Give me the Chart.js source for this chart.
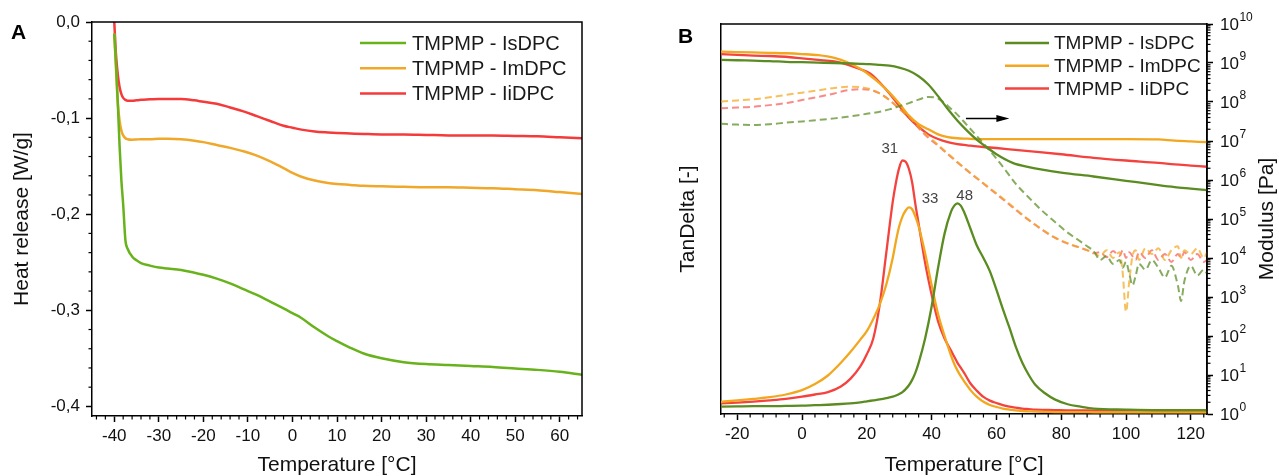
<!DOCTYPE html>
<html>
<head>
<meta charset="utf-8">
<script src="https://cdn.jsdelivr.net/npm/chart.js@4.4.1/dist/chart.umd.min.js"></script>
<style>
  html, body { margin: 0; padding: 0; background: #fff; }
  #wrap { position: relative; width: 1279px; height: 476px; overflow: hidden; }
  canvas { position: absolute; top: 0; }
  #dscChart { left: 0; }
  #dmaChart { left: 640px; }
</style>
</head>
<body>
<div id="wrap">
  <canvas id="dscChart" width="640" height="476"></canvas>
  <canvas id="dmaChart" width="639" height="476"></canvas>
</div>
<script>
const seriesNames = ["TMPMP - IsDPC", "TMPMP - ImDPC", "TMPMP - IiDPC"];

// ---- A: DSC, heat release [W/g] vs temperature [°C]
const dscTemp = [-40, -39.6, -39.2, -38.8, -38.4, -38, -37.5, -37, -36, -35, -34, -32, -30, -28, -25, -22, -20, -17, -14, -11,
  -8, -5, -2, 0, 2, 5, 8, 10, 13, 16, 20, 25, 30, 35, 40, 45, 50, 55, 60, 65];
const heatIs = [-0.012, -0.045, -0.085, -0.13, -0.165, -0.19, -0.227, -0.236, -0.244, -0.248, -0.251, -0.2535, -0.2555, -0.2565, -0.258, -0.261, -0.263, -0.267, -0.272, -0.278,
  -0.284, -0.291, -0.298, -0.303, -0.308, -0.318, -0.327, -0.332, -0.339, -0.345, -0.350, -0.354, -0.356, -0.357, -0.358, -0.359, -0.3605, -0.362, -0.364, -0.367];
const heatIm = [-0.012, -0.05, -0.085, -0.103, -0.113, -0.118, -0.121, -0.122, -0.1225, -0.1222, -0.122, -0.122, -0.1215, -0.1215, -0.122, -0.1235, -0.125, -0.128, -0.131, -0.1345,
  -0.139, -0.145, -0.152, -0.157, -0.161, -0.165, -0.1675, -0.1685, -0.1695, -0.1705, -0.171, -0.1715, -0.172, -0.172, -0.1725, -0.173, -0.174, -0.175, -0.177, -0.179];
const heatIi = [0.0, -0.035, -0.055, -0.068, -0.075, -0.079, -0.081, -0.082, -0.082, -0.0815, -0.081, -0.0805, -0.080, -0.080, -0.080, -0.0815, -0.083, -0.085, -0.089, -0.093,
  -0.098, -0.103, -0.108, -0.110, -0.112, -0.114, -0.115, -0.1155, -0.116, -0.1165, -0.117, -0.117, -0.1175, -0.118, -0.118, -0.118, -0.1185, -0.119, -0.120, -0.121];
const dscTicksX = [-40, -30, -20, -10, 0, 10, 20, 30, 40, 50, 60];
const dscTicksY = [0, -0.1, -0.2, -0.3, -0.4];

// ---- B: DMA, tan delta (left) and moduli (right, log10 of Pa)
const tanTemp = [-25, -20, -15, -10, -5, 0, 4, 8, 12, 15, 18, 20, 22, 24, 26, 28, 29, 30, 31, 32,
  33, 34, 35, 36, 38, 40, 42, 44, 46, 47, 48, 49, 50, 52, 54, 56, 58, 60, 62, 64,
  66, 68, 70, 72, 75, 78, 82, 86, 90, 100, 110, 125];
const tanIs = [0.030, 0.031, 0.032, 0.032, 0.033, 0.034, 0.036, 0.038, 0.041, 0.044, 0.048, 0.052, 0.056, 0.060, 0.065, 0.071, 0.076, 0.082, 0.090, 0.102,
  0.118, 0.140, 0.170, 0.21, 0.31, 0.44, 0.60, 0.74, 0.83, 0.855, 0.864, 0.855, 0.83, 0.76, 0.69, 0.64, 0.585, 0.51, 0.43, 0.355,
  0.275, 0.21, 0.16, 0.12, 0.085, 0.06, 0.04, 0.03, 0.022, 0.018, 0.016, 0.016];
const tanIm = [0.050, 0.056, 0.062, 0.069, 0.080, 0.098, 0.123, 0.158, 0.21, 0.255, 0.305, 0.34, 0.39, 0.45, 0.53, 0.64, 0.71, 0.77, 0.81, 0.835,
  0.848, 0.84, 0.81, 0.77, 0.66, 0.53, 0.41, 0.32, 0.24, 0.205, 0.178, 0.155, 0.135, 0.098, 0.07, 0.05, 0.037, 0.029, 0.022, 0.018,
  0.015, 0.012, 0.011, 0.010, 0.009, 0.008, 0.008, 0.008, 0.007, 0.007, 0.007, 0.007];
const tanIi = [0.044, 0.047, 0.051, 0.056, 0.062, 0.071, 0.080, 0.090, 0.113, 0.145, 0.195, 0.245, 0.31, 0.45, 0.66, 0.87, 0.95, 1.01, 1.04, 1.035,
  1.005, 0.95, 0.86, 0.78, 0.62, 0.49, 0.38, 0.31, 0.26, 0.235, 0.21, 0.19, 0.17, 0.125, 0.095, 0.07, 0.055, 0.045, 0.036, 0.030,
  0.026, 0.022, 0.020, 0.018, 0.017, 0.016, 0.015, 0.015, 0.014, 0.014, 0.013, 0.013];

const modTemp = [-25, -20, -15, -10, -5, 0, 5, 10, 14, 18, 21, 24, 27, 30, 33, 36, 39, 42, 45, 48,
  51, 54, 57, 60, 65, 70, 80, 90, 100, 110, 115, 120, 125];
// storage modulus, log10(G' / Pa)
const storageIs = [9.08, 9.07, 9.06, 9.05, 9.03, 9.02, 9.01, 9.00, 8.99, 8.98, 8.97, 8.95, 8.93, 8.88, 8.80, 8.66, 8.45, 8.15, 7.82, 7.52,
  7.26, 7.03, 6.84, 6.66, 6.44, 6.33, 6.19, 6.09, 5.98, 5.87, 5.82, 5.78, 5.74];
const storageIm = [9.29, 9.28, 9.27, 9.26, 9.25, 9.23, 9.20, 9.13, 9.02, 8.85, 8.68, 8.48, 8.24, 7.96, 7.65, 7.43, 7.30, 7.17, 7.10, 7.07,
  7.06, 7.05, 7.05, 7.05, 7.05, 7.05, 7.05, 7.05, 7.05, 7.04, 7.01, 6.99, 6.97];
const storageIi = [9.23, 9.21, 9.19, 9.18, 9.16, 9.12, 9.08, 9.04, 8.96, 8.84, 8.73, 8.50, 8.22, 7.90, 7.60, 7.36, 7.17, 7.05, 6.97, 6.92,
  6.89, 6.86, 6.84, 6.82, 6.78, 6.74, 6.66, 6.57, 6.50, 6.44, 6.40, 6.37, 6.34];

const lossTemp = [-25, -20, -15, -10, -5, 0, 5, 10, 14, 18, 21, 24, 27, 30, 33, 36, 39, 42, 45, 48,
  51, 54, 57, 60, 63, 66, 70, 74, 78, 82, 86, 88, 90, 92, 94, 96, 98, 99, 100, 101,
  102, 103, 104, 106, 108, 110, 112, 114, 116, 117, 118, 120, 122, 124, 125];
// loss modulus, log10(G'' / Pa)
const lossIs = [7.44, 7.42, 7.41, 7.43, 7.47, 7.50, 7.54, 7.58, 7.62, 7.67, 7.71, 7.75, 7.81, 7.89, 7.97, 8.06, 8.13, 8.09, 7.90, 7.67,
  7.40, 7.12, 6.84, 6.55, 6.23, 5.90, 5.55, 5.22, 4.93, 4.65, 4.42, 4.3, 4.18, 3.95, 4.05, 3.85, 3.95, 3.75, 3.9, 3.6,
  3.3, 3.55, 3.85, 3.7, 3.95, 3.75, 3.5, 3.8, 3.3, 2.9, 3.4, 3.8, 3.55, 3.7, 3.6];
const lossIm = [8.01, 8.04, 8.07, 8.12, 8.18, 8.24, 8.30, 8.36, 8.39, 8.38, 8.33, 8.22, 8.05, 7.83, 7.62, 7.36, 7.12, 6.90, 6.68, 6.46,
  6.25, 6.05, 5.85, 5.66, 5.46, 5.25, 4.98, 4.74, 4.53, 4.38, 4.26, 4.2, 4.15, 4.05, 4.2, 4.0, 4.15, 3.6, 2.62, 3.4,
  4.05, 4.2, 3.95, 4.25, 4.1, 4.25, 3.95, 4.2, 4.3, 4.0, 4.2, 4.1, 4.25, 4.0, 4.15];
const lossIi = [7.84, 7.86, 7.88, 7.92, 7.97, 8.05, 8.13, 8.22, 8.30, 8.33, 8.31, 8.22, 8.05, 7.83, 7.60, 7.33, 7.08, 6.88, 6.66, 6.45,
  6.24, 6.04, 5.84, 5.64, 5.44, 5.23, 4.97, 4.73, 4.52, 4.37, 4.26, 4.2, 4.12, 4.15, 4.02, 4.18, 4.05, 4.2, 4.0, 4.15,
  4.05, 3.95, 4.15, 4.0, 4.2, 3.95, 4.1, 3.9, 4.1, 4.0, 4.15, 3.95, 4.1, 3.9, 3.95];

const dmaTicksX = [-20, 0, 20, 40, 60, 80, 100, 120];
const modDecades = [0, 1, 2, 3, 4, 5, 6, 7, 8, 9, 10];
// peak temperatures written next to the tan delta maxima: [label, temp, tanDelta]
const peakNotes = [["31", 27.1, 1.087], ["33", 39.5, 0.882], ["48", 50.2, 0.894]];
// arrow pointing to the modulus axis: temps and log10 level
const arrowTemps = [50.6, 64];
const arrowLevel = 7.58;

const FONT = "'Liberation Sans', Arial, Helvetica, sans-serif";
Chart.defaults.font.family = FONT;
Chart.defaults.color = '#111';

const pow10 = arr => arr.map(e => Math.pow(10, e));

function series(label, xs, ys, color, extra) {
  return Object.assign({
    label,
    data: xs.map((x, i) => ({ x, y: ys[i] })),
    borderColor: color,
    backgroundColor: color,
    borderWidth: 2.3,
    pointRadius: 0,
    fill: false,
    cubicInterpolationMode: 'monotone'
  }, extra || {});
}

function xAxis(min, max, ticks, height) {
  return {
    type: 'linear', min, max,
    afterBuildTicks: s => { s.ticks = ticks.map(v => ({ value: v })); },
    afterFit: s => { s.height = height; },
    ticks: { font: { size: 17 }, padding: 4, autoSkip: false, maxRotation: 0, color: '#111' },
    grid: { drawOnChartArea: false, tickLength: 6, tickWidth: 1.5, tickColor: '#000' },
    border: { color: '#000', width: 1.5 },
    title: { display: true, text: 'Temperature [°C]', font: { size: 21, lineHeight: 1 }, padding: 0, color: '#111' }
  };
}

// frame, minor ticks, legend and notes
const decor = {
  id: 'decor',
  afterDatasetsDraw(chart, args, o) {
    const { ctx, chartArea: a } = chart;
    ctx.save();
    ctx.strokeStyle = '#000';
    ctx.lineWidth = 1.5;
    ctx.beginPath();
    ctx.moveTo(a.left, a.top);
    ctx.lineTo(a.right, a.top);
    ctx.lineTo(a.right, a.bottom);
    ctx.stroke();

    ctx.lineWidth = 1.2;
    (o.minor || []).forEach(m => {
      const s = chart.scales[m.axis];
      m.values.forEach(v => {
        const p = s.getPixelForValue(v);
        ctx.beginPath();
        if (s.isHorizontal()) { ctx.moveTo(p, a.bottom); ctx.lineTo(p, a.bottom + 3.5); }
        else if (s.position === 'left') { ctx.moveTo(a.left, p); ctx.lineTo(a.left - 3.5, p); }
        else { ctx.moveTo(a.right, p); ctx.lineTo(a.right + 3.5, p); }
        ctx.stroke();
      });
    });

    // decade labels with raised exponent
    if (o.logLabels) {
      const s = chart.scales[o.logLabels.axis];
      ctx.fillStyle = '#111';
      ctx.textAlign = 'left';
      ctx.textBaseline = 'middle';
      o.logLabels.decades.forEach(d => {
        const y = s.getPixelForValue(Math.pow(10, d));
        const x = a.right + 13;
        ctx.font = '17px ' + FONT;
        ctx.fillText('10', x, y + 1);
        const w = ctx.measureText('10').width;
        ctx.font = '12px ' + FONT;
        ctx.fillText(String(d), x + w + 0.5, y - 6);
      });
    }

    const lg = o.legend;
    ctx.font = lg.size + 'px ' + FONT;
    ctx.textBaseline = 'middle';
    ctx.textAlign = 'left';
    lg.datasets.forEach((di, r) => {
      const ds = chart.data.datasets[di];
      const y = lg.y + r * lg.dy;
      ctx.strokeStyle = ds.borderColor;
      ctx.lineWidth = 2.5;
      ctx.beginPath();
      ctx.moveTo(lg.x, y);
      ctx.lineTo(lg.x + lg.len, y);
      ctx.stroke();
      ctx.fillStyle = '#1a1a1a';
      ctx.fillText(ds.label, lg.x + lg.len + lg.gap, y + 1);
    });

    ctx.font = 'bold 21px ' + FONT;
    ctx.textBaseline = 'alphabetic';
    ctx.fillStyle = '#000';
    ctx.fillText(o.letter.text, o.letter.x, o.letter.y);

    if (o.peaks) {
      const sx = chart.scales.x, sy = chart.scales.yTan;
      ctx.font = '15px ' + FONT;
      ctx.fillStyle = '#444';
      ctx.textAlign = 'center';
      ctx.textBaseline = 'middle';
      o.peaks.forEach(([t, x, y]) => ctx.fillText(t, sx.getPixelForValue(x), sy.getPixelForValue(y)));
    }
    if (o.arrow) {
      const sx = chart.scales.x, sy = chart.scales.yMod;
      const x0 = sx.getPixelForValue(o.arrow.temps[0]);
      const x1 = sx.getPixelForValue(o.arrow.temps[1]);
      const y = sy.getPixelForValue(Math.pow(10, o.arrow.level));
      ctx.strokeStyle = '#000';
      ctx.fillStyle = '#000';
      ctx.lineWidth = 1.5;
      ctx.beginPath();
      ctx.moveTo(x0, y);
      ctx.lineTo(x1 - 10, y);
      ctx.stroke();
      ctx.beginPath();
      ctx.moveTo(x1, y);
      ctx.lineTo(x1 - 13, y - 3.5);
      ctx.lineTo(x1 - 13, y + 3.5);
      ctx.closePath();
      ctx.fill();
    }
    if (o.rightTitle) {
      ctx.save();
      ctx.translate(o.rightTitle.x, (a.top + a.bottom) / 2);
      ctx.rotate(-Math.PI / 2);
      ctx.font = '21px ' + FONT;
      ctx.fillStyle = '#111';
      ctx.textAlign = 'center';
      ctx.textBaseline = 'middle';
      ctx.fillText(o.rightTitle.text, 0, 0);
      ctx.restore();
    }
    ctx.restore();
  }
};

const range = (from, to, step) => {
  const out = [];
  for (let v = from; v <= to + 1e-9; v += step) out.push(+v.toFixed(4));
  return out;
};

// ---------- Panel A ----------
new Chart(document.getElementById('dscChart'), {
  type: 'line',
  data: {
    datasets: [
      series(seriesNames[0], dscTemp, heatIs, '#68b21c', { borderWidth: 2.5 }),
      series(seriesNames[1], dscTemp, heatIm, '#f0a82a', { borderWidth: 2.5 }),
      series(seriesNames[2], dscTemp, heatIi, '#f43a3a', { borderWidth: 2.5 })
    ]
  },
  options: {
    responsive: false,
    animation: false,
    devicePixelRatio: 1,
    layout: { padding: { top: 22, right: 58, left: 0, bottom: 0 } },
    plugins: {
      legend: { display: false },
      tooltip: { enabled: false },
      decor: {
        minor: [
          { axis: 'x', values: range(-44, 64, 2).filter(v => v % 10 !== 0) },
          { axis: 'y', values: range(-0.40, 0, 0.02).filter(v => Math.abs(v * 10 - Math.round(v * 10)) > 1e-6) }
        ],
        legend: { datasets: [0, 1, 2], x: 360, y: 43, dy: 25.3, len: 46, gap: 6, size: 20 },
        letter: { text: 'A', x: 11, y: 39 }
      }
    },
    scales: {
      x: xAxis(-45, 65, dscTicksX, 60),
      y: {
        type: 'linear', min: -0.41, max: 0,
        afterBuildTicks: s => { s.ticks = dscTicksY.map(v => ({ value: v })); },
        afterFit: s => { s.width = 92; },
        ticks: {
          font: { size: 17 }, padding: 6, color: '#111',
          callback: v => v.toFixed(1).replace('.', ',')
        },
        grid: { drawOnChartArea: false, tickLength: 6, tickWidth: 1.5, tickColor: '#000' },
        border: { color: '#000', width: 1.5 },
        title: { display: true, text: 'Heat release [W/g]', font: { size: 21, lineHeight: 1 }, padding: { top: 12, bottom: 0 }, color: '#111' }
      }
    }
  },
  plugins: [decor]
});

// ---------- Panel B ----------
const colB = ['#5a8c21', '#f2a71e', '#f4433f'];
const colBLight = ['rgba(90,140,33,0.72)', 'rgba(242,167,30,0.72)', 'rgba(244,67,63,0.62)'];
const dashed = { borderDash: [7, 4], borderWidth: 2, yAxisID: 'yMod' };

new Chart(document.getElementById('dmaChart'), {
  type: 'line',
  data: {
    datasets: [
      series(seriesNames[0] + " G''", lossTemp, pow10(lossIs), colBLight[0], dashed),
      series(seriesNames[1] + " G''", lossTemp, pow10(lossIm), colBLight[1], dashed),
      series(seriesNames[2] + " G''", lossTemp, pow10(lossIi), colBLight[2], dashed),
      series(seriesNames[0] + " G'", modTemp, pow10(storageIs), colB[0], { yAxisID: 'yMod' }),
      series(seriesNames[1] + " G'", modTemp, pow10(storageIm), colB[1], { yAxisID: 'yMod' }),
      series(seriesNames[2] + " G'", modTemp, pow10(storageIi), colB[2], { yAxisID: 'yMod' }),
      series(seriesNames[0], tanTemp, tanIs, colB[0], { yAxisID: 'yTan' }),
      series(seriesNames[1], tanTemp, tanIm, colB[1], { yAxisID: 'yTan' }),
      series(seriesNames[2], tanTemp, tanIi, colB[2], { yAxisID: 'yTan' })
    ]
  },
  options: {
    responsive: false,
    animation: false,
    devicePixelRatio: 1,
    layout: { padding: { top: 24, right: 0, left: 0, bottom: 0 } },
    plugins: {
      legend: { display: false },
      tooltip: { enabled: false },
      decor: {
        minor: [
          { axis: 'x', values: range(-24, 124, 4).filter(v => v % 20 !== 0) },
          { axis: 'yMod', values: modDecades.slice(0, -1).flatMap(d => [2, 3, 4, 5, 6, 7, 8, 9].map(k => k * Math.pow(10, d))) }
        ],
        logLabels: { axis: 'yMod', decades: modDecades },
        legend: { datasets: [6, 7, 8], x: 365, y: 43, dy: 22.7, len: 44, gap: 5, size: 19 },
        letter: { text: 'B', x: 38, y: 43 },
        peaks: peakNotes,
        arrow: { temps: arrowTemps, level: arrowLevel },
        rightTitle: { text: 'Modulus [Pa]', x: 627 }
      }
    },
    scales: {
      x: xAxis(-25, 125, dmaTicksX, 62),
      yTan: {
        type: 'linear', position: 'left', min: 0, max: 1.6,
        afterFit: s => { s.width = 81; },
        ticks: { display: false },
        grid: { drawOnChartArea: false, drawTicks: false },
        border: { color: '#000', width: 1.5 },
        title: { display: true, text: 'TanDelta [-]', font: { size: 21, lineHeight: 1 }, padding: { top: 38, bottom: 0 }, color: '#111' }
      },
      yMod: {
        type: 'logarithmic', position: 'right', min: 1, max: 1e10,
        afterBuildTicks: s => { s.ticks = modDecades.map(d => ({ value: Math.pow(10, d), major: true })); },
        afterFit: s => { s.width = 72; },
        ticks: { display: false },
        grid: { drawOnChartArea: false, drawTicks: true, tickLength: 6, tickWidth: 1.5, tickColor: '#000' },
        border: { color: '#000', width: 1.5 }
      }
    }
  },
  plugins: [decor]
});
</script>
</body>
</html>
